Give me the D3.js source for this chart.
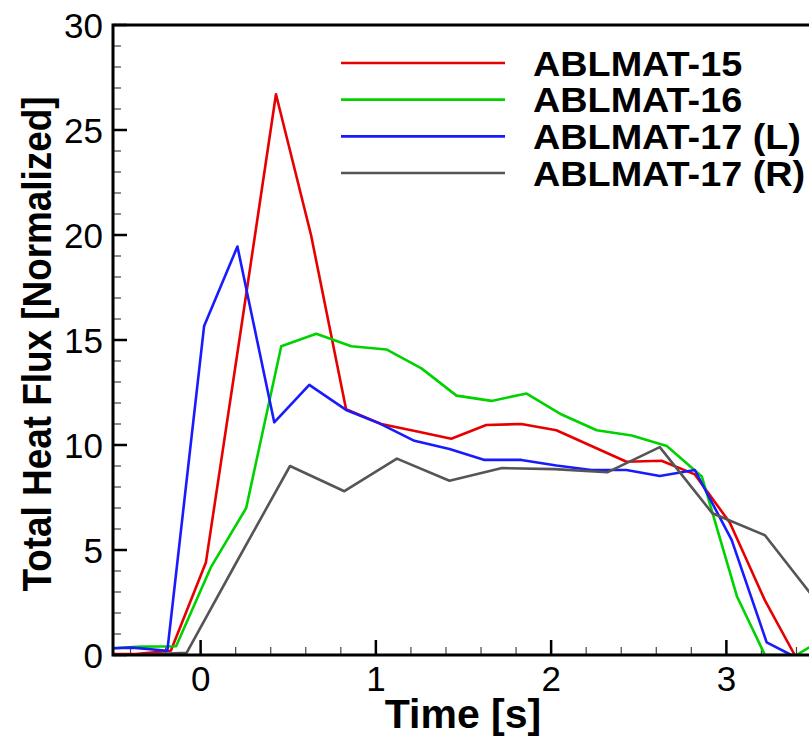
<!DOCTYPE html>
<html>
<head>
<meta charset="utf-8">
<script src="https://cdn.jsdelivr.net/npm/d3@7/dist/d3.min.js"></script>
<style>
  html, body { margin: 0; padding: 0; background: #fff; }
  svg { display: block; }
  text { font-family: "Liberation Sans", Arial, Helvetica, sans-serif; fill: #000; }
</style>
</head>
<body>
<svg id="chart" width="809" height="736"></svg>
<script>
// ---- Data ----
const seriesNames = ["ABLMAT-15", "ABLMAT-16", "ABLMAT-17 (L)", "ABLMAT-17 (R)"];
const seriesColors = ["#e60000", "#00d200", "#1a1aff", "#555555"];

const abl15Time = [-0.57, -0.37, -0.17, 0.03, 0.23, 0.43, 0.63, 0.83, 1.03, 1.23, 1.43, 1.63, 1.83, 2.03, 2.23, 2.43, 2.63, 2.82, 3.02, 3.22, 3.39];
const abl15Flux = [0.05, 0.05, 0.2, 4.4, 15.5, 26.7, 20.0, 11.7, 11.0, 10.65, 10.3, 10.95, 11.0, 10.7, 9.95, 9.2, 9.25, 8.6, 6.3, 2.6, 0.0];

const abl16Time = [-0.54, -0.34, -0.14, 0.06, 0.26, 0.46, 0.66, 0.86, 1.06, 1.26, 1.46, 1.66, 1.86, 2.06, 2.26, 2.46, 2.66, 2.86, 3.06, 3.22, 3.40, 3.50];
const abl16Flux = [0.3, 0.4, 0.42, 4.2, 7.0, 14.7, 15.3, 14.7, 14.55, 13.65, 12.35, 12.1, 12.45, 11.45, 10.7, 10.45, 9.95, 8.5, 2.8, 0.0, 0.0, 0.5];

const abl17LTime = [-0.58, -0.39, -0.19, 0.02, 0.21, 0.42, 0.62, 0.83, 1.02, 1.22, 1.42, 1.62, 1.83, 2.03, 2.23, 2.43, 2.62, 2.82, 3.03, 3.23, 3.37];
const abl17LFlux = [0.3, 0.35, 0.2, 15.67, 19.45, 11.08, 12.86, 11.67, 11.03, 10.2, 9.81, 9.29, 9.29, 9.02, 8.81, 8.81, 8.52, 8.81, 5.48, 0.6, 0.0];

const abl17RTime = [-0.68, -0.38, -0.08, 0.21, 0.51, 0.82, 1.12, 1.42, 1.72, 2.02, 2.32, 2.62, 2.92, 3.22, 3.52];
const abl17RFlux = [0.0, 0.0, 0.1, 4.5, 9.0, 7.8, 9.35, 8.3, 8.9, 8.85, 8.7, 9.9, 6.75, 5.7, 2.5];

const xMajorTicks = [0, 1, 2, 3];
const yMajorTicks = [0, 5, 10, 15, 20, 25, 30];
const xTitle = "Time [s]";
const yTitle = "Total Heat Flux [Normalized]";

// ---- Layout ----
const svg = d3.select("#chart");
const pLeft = 113, pRight = 814, pTop = 25, pBottom = 655;

const x = d3.scaleLinear().domain([-0.5, 3.5]).range([pLeft, pRight]);
const y = d3.scaleLinear().domain([0, 30]).range([pBottom, pTop]);

const series = [
  { name: seriesNames[0], color: seriesColors[0], t: abl15Time, v: abl15Flux },
  { name: seriesNames[1], color: seriesColors[1], t: abl16Time, v: abl16Flux },
  { name: seriesNames[2], color: seriesColors[2], t: abl17LTime, v: abl17LFlux },
  { name: seriesNames[3], color: seriesColors[3], t: abl17RTime, v: abl17RFlux }
];

svg.append("defs").append("clipPath").attr("id", "plotclip")
  .append("rect").attr("x", pLeft).attr("y", pTop).attr("width", pRight - pLeft).attr("height", pBottom - pTop);

// ---- Ticks (inside, major + minor) ----
const xMinor = d3.range(-4, 35, 2).map(d => d / 10).filter(d => !xMajorTicks.includes(d));
const yMinor = d3.range(1, 30, 1).filter(d => d % 5 !== 0);

const tickG = svg.append("g").attr("stroke", "#000");
tickG.selectAll(".xminor").data(xMinor).join("line")
  .attr("x1", d => x(d)).attr("x2", d => x(d))
  .attr("y1", pBottom).attr("y2", pBottom - 8).attr("stroke-width", 1.2).attr("stroke", "#444");
tickG.selectAll(".xmajor").data(xMajorTicks).join("line")
  .attr("x1", d => x(d)).attr("x2", d => x(d))
  .attr("y1", pBottom).attr("y2", pBottom - 15).attr("stroke-width", 2.5);
tickG.selectAll(".yminor").data(yMinor).join("line")
  .attr("x1", pLeft).attr("x2", pLeft + 8)
  .attr("y1", d => y(d)).attr("y2", d => y(d)).attr("stroke-width", 1.2).attr("stroke", "#444");
tickG.selectAll(".ymajor").data(yMajorTicks).join("line")
  .attr("x1", pLeft).attr("x2", pLeft + 14)
  .attr("y1", d => y(d)).attr("y2", d => y(d)).attr("stroke-width", 2.5);

// ---- Data lines ----
const line = d3.line().x(d => x(d[0])).y(d => y(d[1]));
const linesG = svg.append("g").attr("clip-path", "url(#plotclip)");
series.forEach(s => {
  const pts = s.t.map((t, i) => [t, s.v[i]]);
  linesG.append("path").datum(pts)
    .attr("d", line)
    .attr("fill", "none")
    .attr("stroke", s.color)
    .attr("stroke-width", 2.6)
    .attr("stroke-linejoin", "round");
});

// ---- Frame ----
svg.append("path")
  .attr("d", `M${pRight},${pTop} L${pLeft},${pTop} L${pLeft},${pBottom} L${pRight},${pBottom}`)
  .attr("fill", "none").attr("stroke", "#000").attr("stroke-width", 3);

// ---- Tick labels ----
svg.append("g").selectAll("text").data(yMajorTicks).join("text")
  .attr("x", pLeft - 10).attr("y", d => y(d) + 12.5)
  .attr("text-anchor", "end").attr("font-size", 35)
  .text(d => d);
svg.append("g").selectAll("text").data(xMajorTicks).join("text")
  .attr("x", d => x(d)).attr("y", 691)
  .attr("text-anchor", "middle").attr("font-size", 35)
  .text(d => d);

// ---- Axis titles ----
svg.append("text")
  .attr("x", 463).attr("y", 728)
  .attr("text-anchor", "middle").attr("font-size", 41).attr("font-weight", "bold")
  .text(xTitle);
svg.append("text")
  .attr("transform", "translate(51,344) rotate(-90)")
  .attr("text-anchor", "middle").attr("font-size", 41).attr("font-weight", "bold")
  .attr("textLength", 495).attr("lengthAdjust", "spacingAndGlyphs")
  .text(yTitle);

// ---- Legend ----
const legendY = d3.scaleLinear().domain([0, 3]).range([63, 173]);
const legG = svg.append("g");
series.forEach((s, i) => {
  legG.append("line")
    .attr("x1", 341).attr("x2", 505)
    .attr("y1", legendY(i)).attr("y2", legendY(i))
    .attr("stroke", s.color).attr("stroke-width", 2.6);
  legG.append("text")
    .attr("transform", `translate(533,${legendY(i) + 12.5}) scale(1.08,1)`)
    .attr("font-size", 35).attr("font-weight", "bold")
    .text(s.name);
});
</script>
</body>
</html>
